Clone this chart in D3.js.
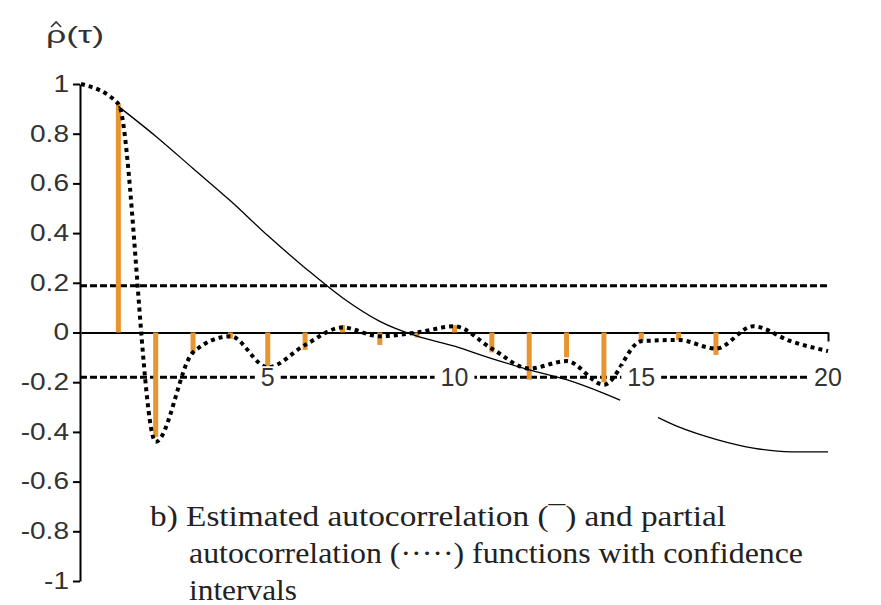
<!DOCTYPE html>
<html>
<head>
<meta charset="utf-8">
<script src="https://cdn.jsdelivr.net/npm/d3@7"></script>
<style>
  html, body { margin: 0; padding: 0; background: #fff; }
  svg { display: block; }
</style>
</head>
<body>
<svg id="chart" width="881" height="605"></svg>
<script>
// ---- data ----
const lags = d3.range(0, 21);                      // 0..20
const acf = [1.0, 0.91, 0.79, 0.66, 0.53, 0.39, 0.26, 0.14, 0.045, -0.015, -0.055,
             -0.105, -0.15, -0.19, -0.245, -0.31, -0.38, -0.43, -0.465, -0.48, -0.48];
const pacf = [1.0, 0.92, -0.44, -0.08, -0.015, -0.14, -0.05, 0.02, -0.015, 0.0, 0.025,
              -0.065, -0.145, -0.115, -0.21, -0.035, -0.03, -0.065, 0.025, -0.035, -0.075];
const barLags = d3.range(1, 21);
const barValues = [0.92, -0.42, -0.08, -0.025, -0.15, -0.07, 0.03, -0.05, -0.02, 0.03,
                   -0.08, -0.19, -0.10, -0.20, -0.035, -0.03, -0.09, 0, 0, 0];
const confUpper = 0.188;
const confLower = -0.18;
const yTicks = [1, 0.8, 0.6, 0.4, 0.2, 0, -0.2, -0.4, -0.6, -0.8, -1];
const xTickLabels = [5, 10, 15, 20];
const acfGap = [14.43, 15.45];
const yLabel = "\u03C1(\u03C4)";
const caption = [
  "b) Estimated autocorrelation (\u00AF) and partial",
  "autocorrelation (\u00B7\u00B7\u00B7\u00B7\u00B7) functions with confidence",
  "intervals"
];

// ---- scales ----
const svg = d3.select("#chart");
const x = d3.scaleLinear().domain([0, 20]).range([81, 828]);
const y = d3.scaleLinear().domain([-1, 1]).range([581, 84]);

// confidence intervals
[confUpper, confLower].forEach(v => {
  svg.append("line")
    .attr("x1", x(0) - 1).attr("x2", x(20))
    .attr("y1", y(v)).attr("y2", y(v))
    .attr("stroke", "#000").attr("stroke-width", 3)
    .attr("stroke-dasharray", "7,3");
});

// zero axis with end tick
const xAxis = d3.axisBottom(x).tickValues([20]).tickSize(9).tickSizeOuter(0).tickFormat("");
const gx = svg.append("g").attr("transform", `translate(0,${y(0)})`).call(xAxis);
gx.select(".domain").attr("stroke", "#000").attr("stroke-width", 2);
gx.selectAll(".tick line").attr("stroke", "#000").attr("stroke-width", 2);

// y axis
const yAxis = d3.axisLeft(y).tickValues(yTicks).tickSize(7).tickSizeOuter(0)
  .tickFormat(d => String(+d.toFixed(1)));
const gy = svg.append("g").attr("transform", `translate(${x(0) - 1},0)`).call(yAxis);
gy.select(".domain").attr("stroke", "#000").attr("stroke-width", 2);
gy.selectAll(".tick line").attr("stroke", "#000").attr("stroke-width", 2);
gy.selectAll(".tick text")
  .attr("font-family", "'Liberation Sans', Arial, sans-serif")
  .attr("font-size", 23).attr("fill", "#333")
  .attr("x", 0).attr("transform", "translate(-11,0) scale(1.22,1)");

// bars
svg.append("g").selectAll("line").data(barLags.map((l, i) => ({l, v: barValues[i]})))
  .join("line")
  .attr("x1", d => x(d.l)).attr("x2", d => x(d.l))
  .attr("y1", y(0)).attr("y2", d => y(d.v))
  .attr("stroke", "#e8952f").attr("stroke-width", 5);

// ACF thin line
const acfPts = lags.slice(1).map(l => [l, acf[l]]);
const lineGen = d3.line().x(d => x(d[0])).y(d => y(d[1])).curve(d3.curveMonotoneX);
svg.append("path").attr("d", lineGen(acfPts))
  .attr("fill", "none").attr("stroke", "#000").attr("stroke-width", 1.3);
// gap in the ACF line
svg.append("rect")
  .attr("x", x(acfGap[0])).attr("width", x(acfGap[1]) - x(acfGap[0]))
  .attr("y", y(-0.27)).attr("height", y(-0.42) - y(-0.27))
  .attr("fill", "#fff");

// PACF dotted line
const pacfPts = lags.map(l => [l, pacf[l]]);
svg.append("path").attr("d", lineGen(pacfPts))
  .attr("fill", "none").attr("stroke", "#000").attr("stroke-width", 4)
  .attr("stroke-dasharray", "4,4");

// x tick labels on the lower confidence line
const xl = svg.append("g").selectAll("g").data(xTickLabels).join("g")
  .attr("transform", d => `translate(${x(d)},${y(confLower)})`);
xl.append("rect").attr("fill", "#fff");
xl.append("text")
  .attr("text-anchor", "middle").attr("dy", "0.36em")
  .attr("font-family", "'Liberation Sans', Arial, sans-serif")
  .attr("font-size", 25).attr("fill", "#333")
  .text(d => d);
xl.each(function() {
  const t = d3.select(this).select("text").node().getBBox();
  d3.select(this).select("rect")
    .attr("x", t.x - 6).attr("y", t.y + 3).attr("width", t.width + 12).attr("height", t.height - 6);
});

// y label with hat (hat drawn as a small path above the rho)
const yl = svg.append("text").attr("x", 46).attr("y", 43)
  .attr("font-family", "'Liberation Sans', Arial, sans-serif")
  .attr("font-size", 24).attr("fill", "#333")
  .attr("textLength", 58).attr("lengthAdjust", "spacingAndGlyphs")
  .text(yLabel);
const rho = yl.node().getExtentOfChar(0);
const hc = rho.x + rho.width / 2;
svg.append("path")
  .attr("d", `M${hc - 5},${27} L${hc},${22} L${hc + 5},${27}`)
  .attr("fill", "none").attr("stroke", "#333").attr("stroke-width", 1.6);

// caption
const capX = [150, 189, 189];
const capLen = [576, 614, 108];
const cap = svg.append("g")
  .attr("font-family", "'Liberation Serif', 'Times New Roman', serif")
  .attr("font-size", 30).attr("fill", "#222");
caption.forEach((s, i) => {
  cap.append("text").attr("x", capX[i]).attr("y", 526 + i * 37)
    .attr("textLength", capLen[i]).attr("lengthAdjust", "spacingAndGlyphs")
    .text(s);
});
</script>
</body>
</html>
